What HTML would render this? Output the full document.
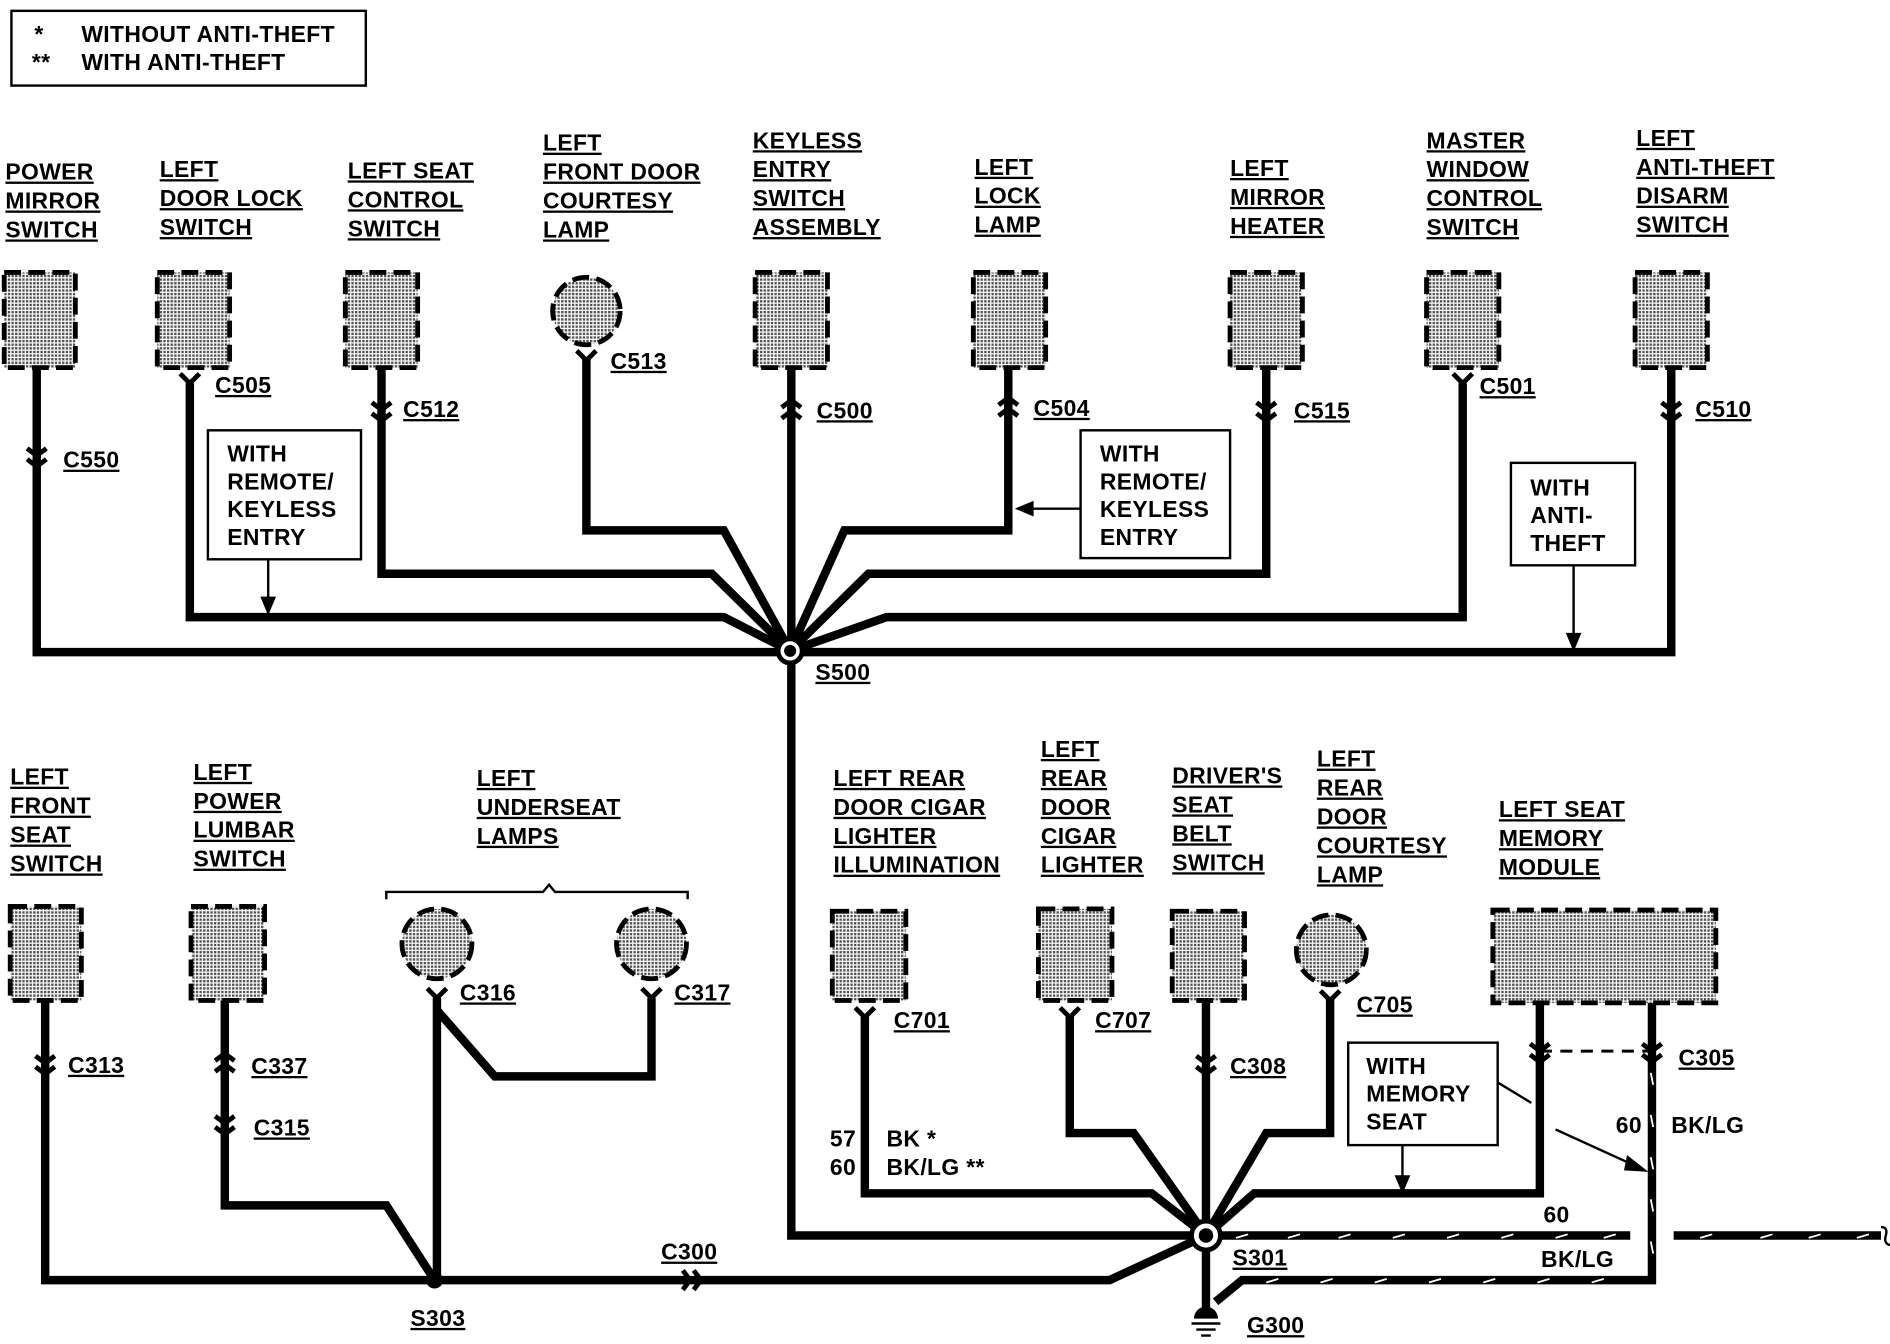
<!DOCTYPE html>
<html><head><meta charset="utf-8"><style>
html,body{margin:0;padding:0;background:#fff}
svg{display:block}
text{font-family:"Liberation Sans",Arial,sans-serif;font-weight:bold;font-size:19px;fill:#000;letter-spacing:0.3px}
.u{text-decoration:underline}
</style></head><body>
<svg width="1890" height="1344" viewBox="0 0 1567 1115" xmlns="http://www.w3.org/2000/svg">
<defs>
<pattern id="st" width="3" height="3" patternUnits="userSpaceOnUse"><rect width="3" height="3" fill="#fff"/><rect width="2" height="2" fill="#555"/></pattern>
</defs>
<rect width="1567" height="1115" fill="#fff"/>
<rect x="9" y="9" width="294" height="62" fill="none" stroke="#000" stroke-width="2"/>
<text x="28" y="35">*</text><text x="67" y="35">WITHOUT ANTI-THEFT</text>
<text x="26" y="58">**</text><text x="67" y="58">WITH ANTI-THEFT</text>

<g class="u">
<text x="4" y="149">POWER</text><text x="4" y="173">MIRROR</text><text x="4" y="197">SWITCH</text>
<text x="132" y="147">LEFT</text><text x="132" y="171">DOOR LOCK</text><text x="132" y="195">SWITCH</text>
<text x="288" y="148">LEFT SEAT</text><text x="288" y="172">CONTROL</text><text x="288" y="196">SWITCH</text>
<text x="450" y="125">LEFT</text><text x="450" y="149">FRONT DOOR</text><text x="450" y="173">COURTESY</text><text x="450" y="197">LAMP</text>
<text x="624" y="123">KEYLESS</text><text x="624" y="147">ENTRY</text><text x="624" y="171">SWITCH</text><text x="624" y="195">ASSEMBLY</text>
<text x="808" y="145">LEFT</text><text x="808" y="169">LOCK</text><text x="808" y="193">LAMP</text>
<text x="1020" y="146">LEFT</text><text x="1020" y="170">MIRROR</text><text x="1020" y="194">HEATER</text>
<text x="1183" y="123">MASTER</text><text x="1183" y="147">WINDOW</text><text x="1183" y="171">CONTROL</text><text x="1183" y="195">SWITCH</text>
<text x="1357" y="121">LEFT</text><text x="1357" y="145">ANTI-THEFT</text><text x="1357" y="169">DISARM</text><text x="1357" y="193">SWITCH</text>

<text x="8" y="651">LEFT</text><text x="8" y="675">FRONT</text><text x="8" y="699">SEAT</text><text x="8" y="723">SWITCH</text>
<text x="160" y="647">LEFT</text><text x="160" y="671">POWER</text><text x="160" y="695">LUMBAR</text><text x="160" y="719">SWITCH</text>
<text x="395" y="652">LEFT</text><text x="395" y="676">UNDERSEAT</text><text x="395" y="700">LAMPS</text>
<text x="691" y="652">LEFT REAR</text><text x="691" y="676">DOOR CIGAR</text><text x="691" y="700">LIGHTER</text><text x="691" y="724">ILLUMINATION</text>
<text x="863" y="628">LEFT</text><text x="863" y="652">REAR</text><text x="863" y="676">DOOR</text><text x="863" y="700">CIGAR</text><text x="863" y="724">LIGHTER</text>
<text x="972" y="650">DRIVER'S</text><text x="972" y="674">SEAT</text><text x="972" y="698">BELT</text><text x="972" y="722">SWITCH</text>
<text x="1092" y="636">LEFT</text><text x="1092" y="660">REAR</text><text x="1092" y="684">DOOR</text><text x="1092" y="708">COURTESY</text><text x="1092" y="732">LAMP</text>
<text x="1243" y="678">LEFT SEAT</text><text x="1243" y="702">MEMORY</text><text x="1243" y="726">MODULE</text>

<text x="52" y="388">C550</text><text x="178" y="326">C505</text><text x="334" y="346">C512</text><text x="506" y="306">C513</text>
<text x="677" y="347">C500</text><text x="857" y="345">C504</text><text x="1073" y="347">C515</text><text x="1227" y="327">C501</text><text x="1406" y="346">C510</text>
<text x="676" y="564">S500</text>
<text x="56" y="890">C313</text><text x="208" y="891">C337</text><text x="210" y="942">C315</text>
<text x="381" y="830">C316</text><text x="559" y="830">C317</text>
<text x="548" y="1045">C300</text><text x="340" y="1100">S303</text>
<text x="741" y="853">C701</text><text x="908" y="853">C707</text><text x="1020" y="891">C308</text><text x="1125" y="840">C705</text>
<text x="1392" y="884">C305</text><text x="1022" y="1050">S301</text><text x="1034" y="1106">G300</text>
</g>

<g fill="none" stroke="#000" stroke-width="7" stroke-linejoin="miter">
<path d="M30 305V541H1386V305"/>
<path d="M157 318V512H600L655 540"/>
<path d="M316 305V476H590L655 540"/>
<path d="M486 298V440H600L655 540"/>
<path d="M656 305V1025H1000"/>
<path d="M836 305V440H700L655 540"/>
<path d="M1050 305V476H720L655 540"/>
<path d="M1213 318V512H735L655 540"/>
<path d="M37 830V1062H360"/>
<path d="M186 830V1000H320L360 1062"/>
<path d="M362 828V1062"/>
<path d="M362 838L410 893H540V828"/>
<path d="M360 1062H920L1000 1025"/>
<path d="M717 843V990H955L1000 1025"/>
<path d="M887 843V940H940L1000 1025"/>
<path d="M1000 830V1025"/>
<path d="M1103 828V940H1050L1000 1025"/>
<path d="M1277 832V990H1040L1000 1025"/>
<path d="M1000 1025V1090"/>
<path d="M1000 1025H1352"/>
<path d="M1388 1025H1560"/>
<path d="M1370 832V1062H1030L1008 1080"/>
</g>
<g stroke="#fff" stroke-width="1.5">
<path d="M1025 1027l10-3M1068 1027l10-3M1110 1027l10-3M1155 1027l10-3M1200 1027l10-3M1245 1027l10-3M1290 1027l10-3M1330 1027l10-3M1410 1027l10-3M1460 1027l10-3M1500 1027l10-3M1540 1027l10-3"/>
<path d="M1050 1064l10-3M1095 1064l10-3M1140 1064l10-3M1185 1064l10-3M1230 1064l10-3M1275 1064l10-3M1320 1064l10-3"/>
<path d="M1369 890l2 10M1369 925l2 10M1369 960l2 10M1369 995l2 10M1369 1030l2 10"/>
</g>
<path d="M1560 1018q6 0 4 7t4 8" fill="none" stroke="#000" stroke-width="2"/>
<path d="M1277 872H1370" stroke="#000" stroke-width="2.5" stroke-dasharray="10,7"/>

<g fill="url(#st)" stroke="#000" stroke-width="4" stroke-dasharray="14,6">
<rect x="3" y="226" width="59" height="79"/>
<rect x="130" y="226" width="60" height="79"/>
<rect x="286" y="226" width="60" height="79"/>
<circle cx="486" cy="258" r="28"/>
<rect x="626" y="226" width="60" height="79"/>
<rect x="807" y="226" width="60" height="79"/>
<rect x="1020" y="226" width="60" height="79"/>
<rect x="1183" y="226" width="60" height="79"/>
<rect x="1356" y="226" width="60" height="79"/>
<rect x="8" y="752" width="59" height="78"/>
<rect x="158" y="752" width="61" height="78"/>
<circle cx="362" cy="783" r="29"/>
<circle cx="540" cy="783" r="29"/>
<rect x="690" y="756" width="61" height="74"/>
<rect x="861" y="754" width="61" height="76"/>
<rect x="972" y="756" width="60" height="74"/>
<circle cx="1104" cy="788" r="29"/>
<rect x="1238" y="755" width="185" height="77"/>
</g>

<g fill="none" stroke="#000" stroke-width="4">
<path d="M149 310l8 8 8-8M478 291l8 8 8-8M1205 310l8 8 8-8M709 836l8 8 8-8M879 836l8 8 8-8M1095 822l8 8 8-8"/>
<path d="M354 820l8 8 8-8M532 820l8 8 8-8"/>
<path d="M22 372l8 6 8-6M22 381l8 6 8-6"/>
<path d="M308 334l8 6 8-6M308 343l8 6 8-6"/>
<path d="M648 338l8-6 8 6M648 347l8-6 8 6"/>
<path d="M828 336l8-6 8 6M828 345l8-6 8 6"/>
<path d="M1042 334l8 6 8-6M1042 343l8 6 8-6"/>
<path d="M1378 334l8 6 8-6M1378 343l8 6 8-6"/>
<path d="M29 876l8 6 8-6M29 885l8 6 8-6"/>
<path d="M178 880l8-6 8 6M178 889l8-6 8 6"/>
<path d="M178 926l8 6 8-6M178 935l8 6 8-6"/>
<path d="M992 876l8 6 8-6M992 885l8 6 8-6"/>
<path d="M1269 866l8 6 8-6M1269 875l8 6 8-6"/>
<path d="M1362 866l8 6 8-6M1362 875l8 6 8-6"/>
<path d="M566 1054l6 8-6 8M575 1054l6 8-6 8"/>
</g>

<circle cx="655" cy="540" r="10" fill="#fff" stroke="#000" stroke-width="4"/><circle cx="655" cy="540" r="5"/>
<circle cx="1000" cy="1025" r="12" fill="#fff" stroke="#000" stroke-width="4"/><circle cx="1000" cy="1025" r="6"/>
<circle cx="360" cy="1062" r="7"/>
<path d="M990 1094h20a10 10 0 0 0-20 0z" fill="#000"/>
<path d="M988 1098h24M992 1103h16M996 1108h8" stroke="#000" stroke-width="2"/>

<g fill="#fff" stroke="#000" stroke-width="2">
<rect x="172" y="357" width="127" height="107"/>
<rect x="896" y="357" width="124" height="106"/>
<rect x="1253" y="384" width="103" height="85"/>
<rect x="1118" y="865" width="124" height="85"/>
</g>
<text x="188" y="383">WITH</text><text x="188" y="406">REMOTE/</text><text x="188" y="429">KEYLESS</text><text x="188" y="452">ENTRY</text>
<text x="912" y="383">WITH</text><text x="912" y="406">REMOTE/</text><text x="912" y="429">KEYLESS</text><text x="912" y="452">ENTRY</text>
<text x="1269" y="411">WITH</text><text x="1269" y="434">ANTI-</text><text x="1269" y="457">THEFT</text>
<text x="1133" y="891">WITH</text><text x="1133" y="914">MEMORY</text><text x="1133" y="937">SEAT</text>
<g stroke="#000" stroke-width="2" fill="#000">
<path d="M222 464V500"/><path d="M217 496l5 12 5-12z"/>
<path d="M896 422H852"/><path d="M856 417l-12 5 12 5z"/>
<path d="M1305 469V530"/><path d="M1300 526l5 12 5-12z"/>
<path d="M1163 950V980"/><path d="M1158 976l5 12 5-12z"/>
<path d="M1242 898L1270 915"/>
<path d="M1290 937L1358 968"/><path d="M1350 960l14 11-16-1z"/>
</g>
<path d="M320 746v-6h130l5-6 5 6h110v6" fill="none" stroke="#000" stroke-width="2"/>
<text x="688" y="951">57</text><text x="735" y="951">BK *</text>
<text x="688" y="975">60</text><text x="735" y="975">BK/LG **</text>
<text x="1340" y="940">60</text><text x="1386" y="940">BK/LG</text>
<text x="1280" y="1014">60</text><text x="1278" y="1051">BK/LG</text>
</svg>
</body></html>
